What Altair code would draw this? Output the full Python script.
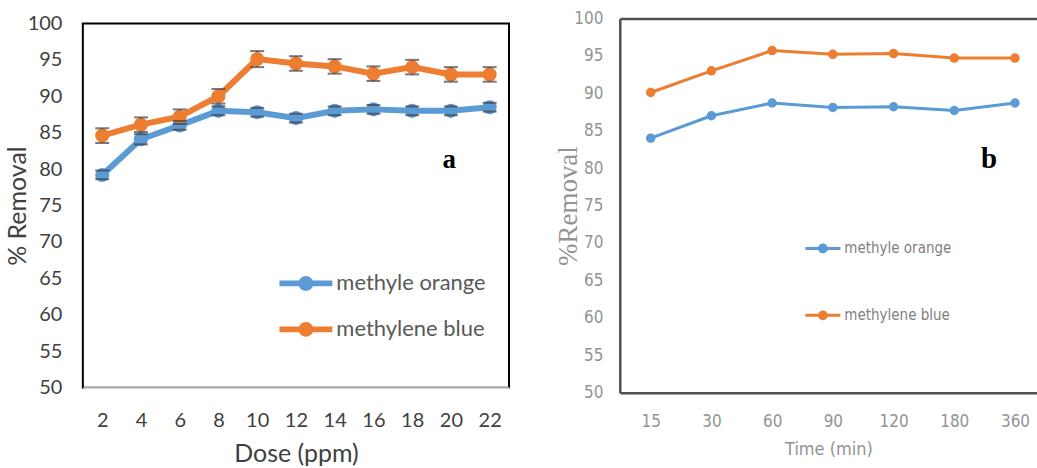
import altair as alt
import pandas as pd

# ---------------- data ----------------
series = ["methyle orange", "methylene blue"]
colors = ["#5B9BD5", "#ED7D31"]

dose = [2, 4, 6, 8, 10, 12, 14, 16, 18, 20, 22]
mo_dose = [79.2, 84.1, 86.0, 88.0, 87.8, 87.0, 88.0, 88.2, 88.0, 88.0, 88.5]
mb_dose = [84.6, 86.1, 87.2, 90.0, 95.1, 94.5, 94.1, 93.1, 94.0, 93.0, 93.0]
mo_dose_err = [0.6, 0.7, 0.6, 0.6, 0.6, 0.6, 0.6, 0.6, 0.6, 0.6, 0.6]
mb_dose_err = [1.0, 1.0, 1.0, 1.0, 1.1, 1.0, 1.0, 1.0, 1.0, 1.0, 1.0]

time = ["15", "30", "60", "90", "120", "180", "360"]
mo_time = [84.0, 87.0, 88.7, 88.1, 88.2, 87.7, 88.7]
mb_time = [90.1, 93.0, 95.7, 95.2, 95.3, 94.7, 94.7]

y_ticks = [50, 55, 60, 65, 70, 75, 80, 85, 90, 95, 100]

# ---------------- tables ----------------
da = pd.DataFrame({
    "dose": dose + dose,
    "removal": mo_dose + mb_dose,
    "err": mo_dose_err + mb_dose_err,
    "dye": [series[0]] * len(dose) + [series[1]] * len(dose),
})
da["lo"] = da["removal"] - da["err"]
da["hi"] = da["removal"] + da["err"]

db = pd.DataFrame({
    "time": time + time,
    "removal": mo_time + mb_time,
    "dye": [series[0]] * len(time) + [series[1]] * len(time),
})

# legend glyph: a bar with a dot in the middle (filled shape)
sym_a = "M-1,-0.11L1,-0.11L1,0.11L-1,0.11ZM-0.28,0A0.28,0.28,0,1,1,0.28,0A0.28,0.28,0,1,1,-0.28,0Z"
sym_b = "M-1,-0.085L1,-0.085L1,0.085L-1,0.085ZM-0.28,0A0.28,0.28,0,1,1,0.28,0A0.28,0.28,0,1,1,-0.28,0Z"

scale_col = alt.Scale(domain=series, range=colors)
yscale = alt.Scale(domain=[50, 100], nice=False, zero=False)

# ---------------- panel a ----------------
FA = "Lato"
legend_a = alt.Legend(
    orient="none", legendX=197, legendY=234, title=None,
    symbolType=sym_a, symbolSize=2809, symbolStrokeWidth=0,
    labelFont=FA, labelFontSize=22, labelColor="#595959", labelOffset=4,
    rowPadding=8, labelLimit=400,
)
color_a = alt.Color("dye:N", scale=scale_col, legend=legend_a)

xa = alt.X("dose:O", sort=dose,
           scale=alt.Scale(type="point", padding=0.5),
           axis=alt.Axis(title="Dose (ppm)", labelAngle=0, ticks=False, domain=True,
                         domainColor="#d9d9d9", domainWidth=2,
                         labelPadding=23, titlePadding=11,
                         labelFont=FA, labelFontSize=20, labelColor="#404040",
                         titleFont=FA, titleFontSize=25, titleColor="#404040",
                         titleFontWeight="normal"))
axis_ya = alt.Axis(title="% Removal", values=y_ticks, ticks=False, domain=False, grid=False,
                   labelOverlap=False,
                   labelPadding=21, titlePadding=-3,
                   labelFont=FA, labelFontSize=20, labelColor="#404040",
                   titleFont=FA, titleFontSize=25, titleColor="#404040",
                   titleFontWeight="normal")
ya = alt.Y("removal:Q", scale=yscale, axis=axis_ya)

base_a = alt.Chart(da)
line_a = base_a.mark_line(strokeWidth=6).encode(x=xa, y=ya, color=color_a)
rule_a = base_a.mark_rule(color="#404040", strokeWidth=1.5).encode(
    x=xa, y=alt.Y("lo:Q", scale=yscale, axis=axis_ya), y2="hi:Q")
pts_a = base_a.mark_point(filled=True, size=200, opacity=1, shape="circle").encode(
    x=xa, y=ya, color=color_a)
lo_a = base_a.mark_tick(color="#404040", size=14, thickness=2).encode(
    x=xa, y=alt.Y("lo:Q", scale=yscale, axis=axis_ya))
hi_a = base_a.mark_tick(color="#404040", size=14, thickness=2).encode(
    x=xa, y=alt.Y("hi:Q", scale=yscale, axis=axis_ya))
lab_a = alt.Chart(pd.DataFrame({"t": ["a"]})).mark_text(
    font="Liberation Serif", fontSize=27, fontWeight="bold", color="#000000",
    align="center", baseline="middle").encode(
    text="t:N", x=alt.value(367), y=alt.value(137))

panel_a = alt.layer(line_a, rule_a, pts_a, lo_a, hi_a, lab_a).properties(
    width=427, height=365,
    view=alt.ViewBackground(stroke="#000000", strokeWidth=2),
)

# ---------------- panel b ----------------
FB = "Liberation Sans Narrow, DejaVu Sans Condensed, Arial Narrow, sans-serif"
legend_b = alt.Legend(
    orient="none", legendX=186, legendY=213, title=None,
    symbolType=sym_b, symbolSize=1225, symbolStrokeWidth=0,
    labelFont=FB, labelFontSize=15, labelColor="#7f7f7f", labelOffset=4,
    rowPadding=41, labelLimit=400,
)
color_b = alt.Color("dye:N", scale=scale_col, legend=legend_b)

xscale_b = alt.Scale(type="point", padding=0.436, align=0.584)
xb = alt.X("time:O", sort=time, scale=xscale_b,
           axis=alt.Axis(title="Time  (min)", labelAngle=0, ticks=False, domain=True,
                         domainColor="#505050", domainWidth=2.5,
                         labelPadding=21, titlePadding=11,
                         labelFont=FB, labelFontSize=17, labelColor="#939393",
                         titleFont=FB, titleFontSize=18, titleColor="#939393",
                         titleFontWeight="normal"))
xb_top = alt.X("time:O", sort=time, scale=xscale_b,
               axis=alt.Axis(orient="top", title=None, labels=False, ticks=False, domain=True,
                             domainColor="#505050", domainWidth=2.5))
yb = alt.Y("removal:Q", scale=yscale,
           axis=alt.Axis(title="%Removal", values=y_ticks, ticks=False, domain=True,
                         labelOverlap=False,
                         domainColor="#505050", domainWidth=2.5, grid=False,
                         labelPadding=17, titlePadding=-9,
                         labelFont=FB, labelFontSize=17, labelColor="#939393",
                         titleFont="Liberation Serif", titleFontSize=27, titleColor="#939393",
                         titleFontWeight="normal"))

base_b = alt.Chart(db)
line_b = base_b.mark_line(strokeWidth=3).encode(x=xb, y=yb, color=color_b)
pts_b = base_b.mark_point(filled=True, size=90, opacity=1, shape="circle").encode(
    x=xb_top, y=yb, color=color_b)
lab_b = alt.Chart(pd.DataFrame({"t": ["b"]})).mark_text(
    font="Liberation Serif", fontSize=29, fontWeight="bold", color="#000000",
    align="center", baseline="middle").encode(
    text="t:N", x=alt.value(370), y=alt.value(141))

panel_b = alt.layer(line_b, pts_b, lab_b).resolve_axis(x="independent").properties(
    width=418, height=375,
    view=alt.ViewBackground(stroke=None),
)

chart = alt.hconcat(panel_a, panel_b, spacing=111, center=True, bounds="flush").properties(
    padding={"left": 4, "top": 9, "right": 0, "bottom": 0},
    background="#ffffff",
).resolve_scale(color="independent")

chart.save("out.html", embed_options={"renderer": "svg", "actions": False})
